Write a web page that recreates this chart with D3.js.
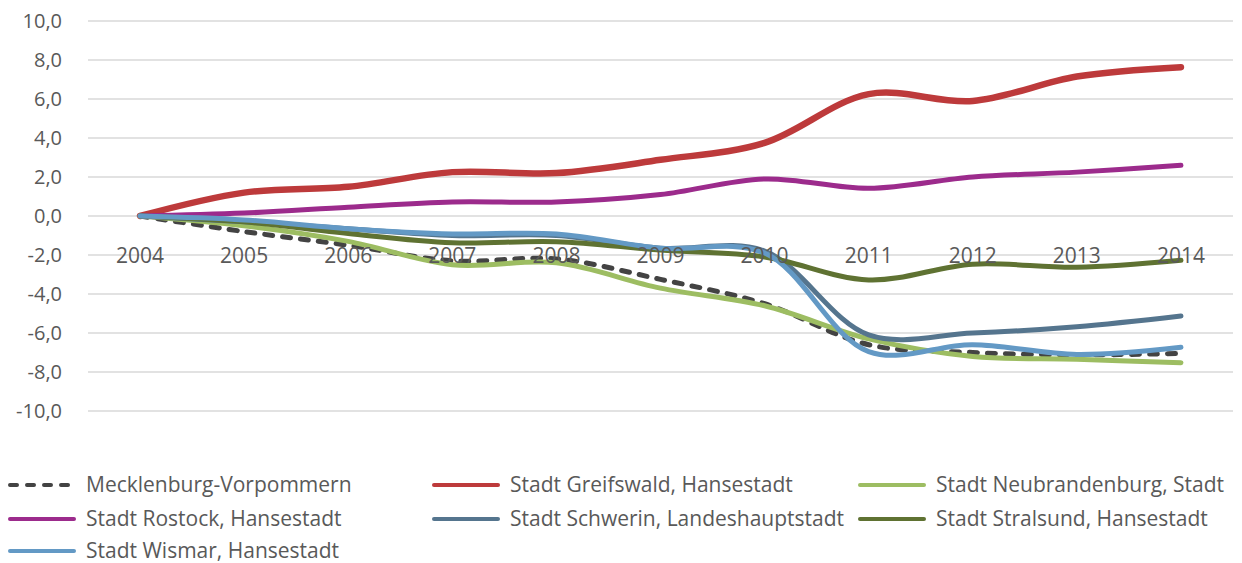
<!DOCTYPE html>
<html>
<head>
<meta charset="utf-8">
<script src="https://cdn.jsdelivr.net/npm/d3@7"></script>
<style>
  body { margin: 0; background: #fff; }
  text { font-family: "Open Sans", sans-serif; fill: #595959; }
</style>
</head>
<body>
<div id="chart"></div>
<script>
// values
var years = ["2004", "2005", "2006", "2007", "2008", "2009", "2010", "2011", "2012", "2013", "2014"];
var yTicks = [10, 8, 6, 4, 2, 0, -2, -4, -6, -8, -10];

var mecklenburg = [0, -0.8, -1.5, -2.3, -2.2, -3.25, -4.5, -6.6, -7.0, -7.12, -7.05];
var greifswald = [0, 1.2, 1.5, 2.25, 2.2, 2.88, 3.75, 6.25, 5.9, 7.15, 7.63];
var neubrandenburg = [0, -0.5, -1.3, -2.5, -2.4, -3.7, -4.6, -6.3, -7.2, -7.35, -7.52];
var rostock = [0, 0.15, 0.45, 0.72, 0.72, 1.1, 1.9, 1.42, 2.0, 2.25, 2.6];
var schwerin = [0, -0.3, -0.65, -1.0, -1.0, -1.65, -1.8, -6.1, -6.0, -5.68, -5.13];
var stralsund = [0, -0.3, -0.9, -1.37, -1.32, -1.75, -2.1, -3.28, -2.47, -2.63, -2.27];
var wismar = [0, -0.2, -0.65, -0.92, -0.92, -1.65, -1.9, -6.95, -6.6, -7.1, -6.73];

var seriesNames = ["Mecklenburg-Vorpommern", "Stadt Greifswald, Hansestadt", "Stadt Neubrandenburg, Stadt",
  "Stadt Rostock, Hansestadt", "Stadt Schwerin, Landeshauptstadt", "Stadt Stralsund, Hansestadt",
  "Stadt Wismar, Hansestadt"];
var seriesValues = [mecklenburg, greifswald, neubrandenburg, rostock, schwerin, stralsund, wismar];
var seriesColors = ["#434343", "#bd3a3b", "#9dbd62", "#9c2b8c", "#55758e", "#5f7232", "#6399c5"];

var w = 1242;
var h = 563;

var svg = d3.select("#chart").append("svg")
  .attr("width", w)
  .attr("height", h);

var xScale = d3.scalePoint()
  .domain(years)
  .range([88, 1233])
  .padding(0.5);

var yScale = d3.scaleLinear()
  .domain([-10, 10])
  .range([411, 21]);

var fmt = function(v) { return d3.format(".1f")(v).replace(".", ",").replace("−", "-"); };

// gridlines
svg.append("g")
  .selectAll("line")
  .data(yTicks)
  .enter()
  .append("line")
  .attr("x1", 88)
  .attr("x2", 1233)
  .attr("y1", function(d) { return yScale(d); })
  .attr("y2", function(d) { return yScale(d); })
  .attr("stroke", "#d9d9d9")
  .attr("stroke-width", 1.5);

// y labels
svg.append("g")
  .selectAll("text")
  .data(yTicks)
  .enter()
  .append("text")
  .attr("x", 62)
  .attr("y", function(d) { return yScale(d); })
  .attr("dy", "0.35em")
  .attr("text-anchor", "end")
  .style("font-size", "20px")
  .text(fmt);

// lines
var line = d3.line()
  .x(function(d, i) { return xScale(years[i]); })
  .y(function(d) { return yScale(d); })
  .curve(d3.curveCatmullRom.alpha(0.5));

svg.append("g")
  .selectAll("path")
  .data(seriesValues)
  .enter()
  .append("path")
  .attr("d", line)
  .attr("fill", "none")
  .attr("stroke", function(d, i) { return seriesColors[i]; })
  .attr("stroke-width", function(d, i) { return i == 1 ? 6.5 : 5; })
  .attr("stroke-linecap", "round")
  .attr("stroke-linejoin", "round")
  .attr("stroke-dasharray", function(d, i) { return i == 0 ? "8,10" : null; });

// category labels
svg.append("g")
  .selectAll("text")
  .data(years)
  .enter()
  .append("text")
  .attr("x", function(d) { return xScale(d); })
  .attr("y", 256)
  .attr("dy", "0.35em")
  .attr("text-anchor", "middle")
  .style("font-size", "21px")
  .text(function(d) { return d; });

// legend
var legendX = [8, 432, 858];
var legendY = [485, 519, 551];

var legend = svg.append("g")
  .selectAll("g")
  .data(seriesNames)
  .enter()
  .append("g")
  .attr("transform", function(d, i) {
    return "translate(" + legendX[i % 3] + "," + legendY[Math.floor(i / 3)] + ")";
  });

legend.append("line")
  .attr("x1", 2)
  .attr("x2", 66)
  .attr("y1", 0)
  .attr("y2", 0)
  .attr("stroke", function(d, i) { return seriesColors[i]; })
  .attr("stroke-width", 4)
  .attr("stroke-linecap", "round")
  .attr("stroke-dasharray", function(d, i) { return i == 0 ? "7,10" : null; });

legend.append("text")
  .attr("x", 78)
  .attr("y", 0)
  .attr("dy", "0.35em")
  .style("font-size", "21px")
  .text(function(d) { return d; });
</script>
</body>
</html>
